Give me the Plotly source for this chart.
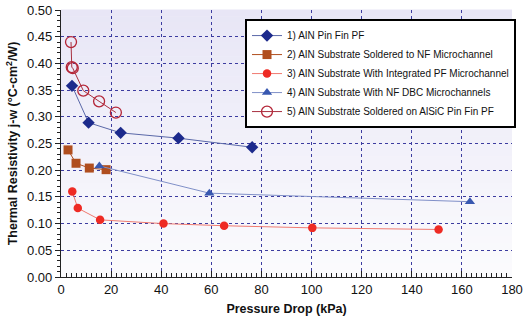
import plotly.graph_objects as go

# Data
s1_name = "1) AIN Pin Fin PF"
s1_x = [4.4, 11.0, 23.8, 46.9, 76.3]
s1_y = [0.358, 0.289, 0.270, 0.260, 0.243]

s2_name = "2) AIN Substrate Soldered to NF Microchannel"
s2_x = [2.8, 6.0, 11.3, 18.0]
s2_y = [0.238, 0.213, 0.204, 0.201]

s3_name = "3) AIN Substrate With Integrated PF Microchannel"
s3_x = [4.5, 6.7, 15.6, 40.9, 65.1, 100.3, 150.7]
s3_y = [0.160, 0.129, 0.107, 0.100, 0.096, 0.092, 0.089]

s4_name = "4) AIN Substrate With NF DBC Microchannels"
s4_x = [15.3, 59.2, 163.2]
s4_y = [0.208, 0.157, 0.141]

s5_name = "5) AIN Substrate Soldered on AlSiC Pin Fin PF"
s5_x = [4.0, 4.3, 4.7, 8.9, 15.2, 21.9]
s5_y = [0.440, 0.393, 0.391, 0.349, 0.329, 0.308]

FONT = "Arial, Liberation Sans, sans-serif"

fig = go.Figure()

def add(name, x, y, symbol, mcolor, lcolor, size, open_=False, lw=1):
    if open_:
        marker = dict(symbol=symbol, size=size, color="rgba(0,0,0,0)",
                      line=dict(color=mcolor, width=1.3))
    else:
        marker = dict(symbol=symbol, size=size, color=mcolor, line=dict(width=0))
    fig.add_trace(go.Scatter(x=x, y=y, name=name, mode="lines+markers",
                             line=dict(color=lcolor, width=lw), marker=marker))

add(s1_name, s1_x, s1_y, "diamond", "#1c2a8c", "#5a68a8", 9.5)
add(s2_name, s2_x, s2_y, "square", "#b04e1e", "#b04e1e", 9)
add(s3_name, s3_x, s3_y, "circle", "#ee2b24", "#f07a70", 8.5)
add(s4_name, s4_x, s4_y, "triangle-up", "#3858b0", "#8090c8", 9)
add(s5_name, s5_x, s5_y, "circle", "#b42638", "#a83040", 11, open_=True)

# gradient background strips (paper refs -> under grid lines)
shapes = []
n = 40
top = (232, 230, 246)
bot = (251, 251, 253)
for i in range(n):
    t = i / (n - 1)
    c = tuple(int(round(top[k] + (bot[k] - top[k]) * t)) for k in range(3))
    shapes.append(dict(type="rect", xref="paper", yref="paper",
                       x0=0, x1=1, y0=1 - (i + 1) / n, y1=1 - i / n + 0.002,
                       fillcolor="rgb(%d,%d,%d)" % c, line=dict(width=0),
                       layer="below"))

fig.update_layout(
    width=526, height=324,
    margin=dict(l=61, r=14, t=10, b=47),
    paper_bgcolor="white", plot_bgcolor="rgba(0,0,0,0)",
    shapes=shapes,
    font=dict(family=FONT, size=13, color="#111"),
    showlegend=True,
    legend=dict(x=0.408, y=0.966, xanchor="left", yanchor="top",
                bgcolor="white", bordercolor="black", borderwidth=2,
                font=dict(family=FONT, size=10, color="#111"),
                itemwidth=30, tracegroupgap=0),
)
fig.update_xaxes(range=[0, 180], dtick=20, tick0=0, automargin=False,
                 showline=True, linecolor="#222", linewidth=1.2,
                 ticks="inside", ticklen=6, tickcolor="#222",
                 minor=dict(dtick=2, ticks="inside", ticklen=4, tickcolor="#222", showgrid=False),
                 showgrid=True, gridcolor="#3c3ca0", gridwidth=1, griddash="3px,3px",
                 zeroline=False,
                 title=dict(text="<b>Pressure Drop (kPa)</b>", font=dict(size=12.5), standoff=8),
                 tickfont=dict(size=13))
fig.update_yaxes(range=[0, 0.5], dtick=0.05, tick0=0, tickformat=".2f", automargin=False,
                 showline=True, linecolor="#222", linewidth=1.2,
                 ticks="outside", ticklen=5, tickcolor="#222",
                 minor=dict(dtick=0.01, ticks="outside", ticklen=3, tickcolor="#222", showgrid=False),
                 showgrid=True, gridcolor="#3c3ca0", gridwidth=1, griddash="3px,3px",
                 zeroline=False,
                 title=dict(text="<b>Thermal Resistivity j-w (°C-cm<sup>2</sup>/W)</b>",
                            font=dict(size=12.5), standoff=6),
                 tickfont=dict(size=13))

fig.write_html("out.html")
